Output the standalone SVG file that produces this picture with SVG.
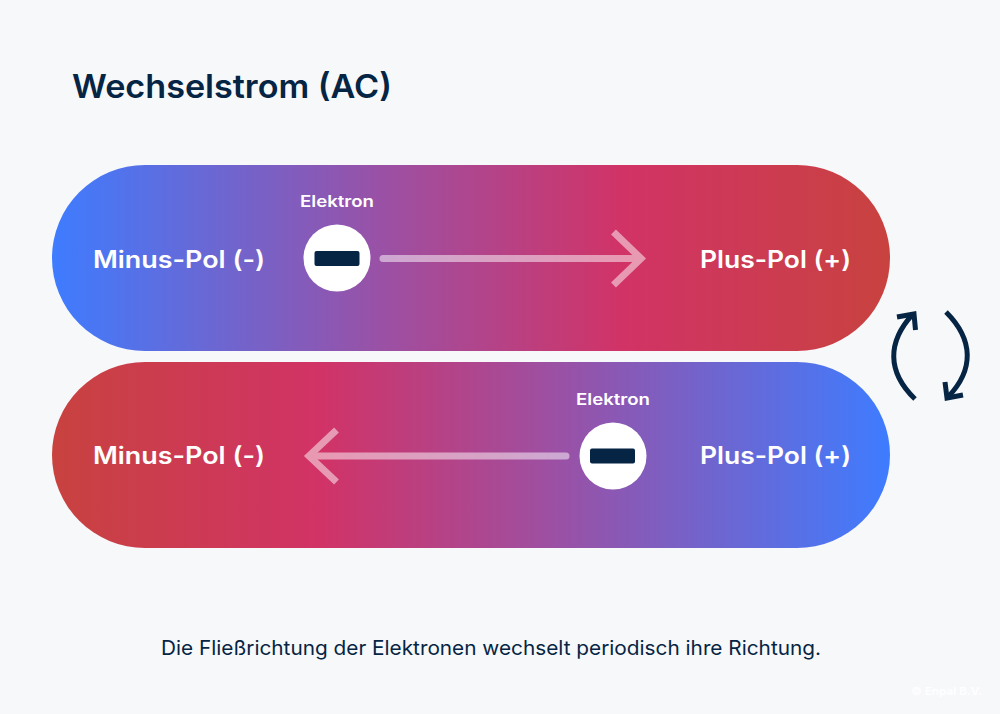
<svg xmlns="http://www.w3.org/2000/svg" width="1000" height="714" viewBox="0 0 1000 714">
<style>
text{font-family:"Inter","Liberation Sans",sans-serif}
.pol{font-size:24px;font-weight:600;fill:#fff}
.el{font-size:16px;font-weight:600;fill:#fff}
.ag{opacity:.5}
.ar{fill:none;stroke:#fff;stroke-width:7}
.cy{fill:none;stroke:#062544;stroke-width:5}
</style>
<defs>
<linearGradient id="gTop" gradientUnits="userSpaceOnUse" x1="52" y1="0" x2="890" y2="0">
<stop offset="0" stop-color="#3e7cff"/><stop offset=".42" stop-color="#a04e9f"/><stop offset=".68" stop-color="#d13366"/><stop offset="1" stop-color="#c8423f"/>
</linearGradient>
<linearGradient id="gBot" gradientUnits="userSpaceOnUse" x1="890" y1="0" x2="52" y2="0">
<stop offset="0" stop-color="#3e7cff"/><stop offset=".42" stop-color="#a04e9f"/><stop offset=".68" stop-color="#d13366"/><stop offset="1" stop-color="#c8423f"/>
</linearGradient>
</defs>
<rect width="1000" height="714" fill="#f7f8fa"/>
<text x="72" y="98" font-size="33" font-weight="600" fill="#062544" textLength="320" lengthAdjust="spacingAndGlyphs">Wechselstrom (AC)</text>
<g id="top-channel">
<rect x="52" y="165" width="838" height="186" rx="93" fill="url(#gTop)"/>
<text class="pol" x="93" y="268" textLength="172" lengthAdjust="spacingAndGlyphs">Minus-Pol (-)</text>
<text class="pol" x="700" y="268" textLength="151" lengthAdjust="spacingAndGlyphs">Plus-Pol (+)</text>
</g>
<g id="bottom-channel">
<rect x="52" y="362" width="838" height="186" rx="93" fill="url(#gBot)"/>
<text class="pol" x="93" y="464" textLength="172" lengthAdjust="spacingAndGlyphs">Minus-Pol (-)</text>
<text class="pol" x="700" y="464" textLength="151" lengthAdjust="spacingAndGlyphs">Plus-Pol (+)</text>
</g>
<g id="electron-top">
<text class="el" x="300" y="207" textLength="74" lengthAdjust="spacingAndGlyphs">Elektron</text>
<circle cx="337" cy="258" r="33.5" fill="#fff"/>
<rect x="314.500" y="251" width="45" height="15" rx="2" fill="#062544"/>
</g>
<g id="electron-bottom">
<text class="el" x="576" y="405" textLength="74" lengthAdjust="spacingAndGlyphs">Elektron</text>
<circle cx="613" cy="456" r="33.5" fill="#fff"/>
<rect x="590" y="448.500" width="45" height="15" rx="2" fill="#062544"/>
</g>
<g id="connectors">
<g class="ag">
<path class="ar" d="M613.500 232L641 258.500L613.500 285"/>
<path class="ar" stroke-linecap="round" d="M383 258.500H640"/>
</g>
<g class="ag">
<path class="ar" d="M336.500 430L309 456L336.500 482"/>
<path class="ar" stroke-linecap="round" d="M566 456H310"/>
</g>
<path class="cy" d="M915 399C887 372 887 342 913 314"/>
<path class="cy" d="M897 317L914 314L915.500 330"/>
<path class="cy" d="M946 312C974 340 974 370 948 397"/>
<path class="cy" d="M963 395L947 398L945 382"/>
</g>
<text x="491" y="655" text-anchor="middle" font-size="20" fill="#062544" textLength="660" lengthAdjust="spacingAndGlyphs">Die Fließrichtung der Elektronen wechselt periodisch ihre Richtung.</text>
<text x="911" y="695" font-size="11" font-weight="600" fill="#fff" textLength="71" lengthAdjust="spacingAndGlyphs">© Enpal B.V.</text>
</svg>
